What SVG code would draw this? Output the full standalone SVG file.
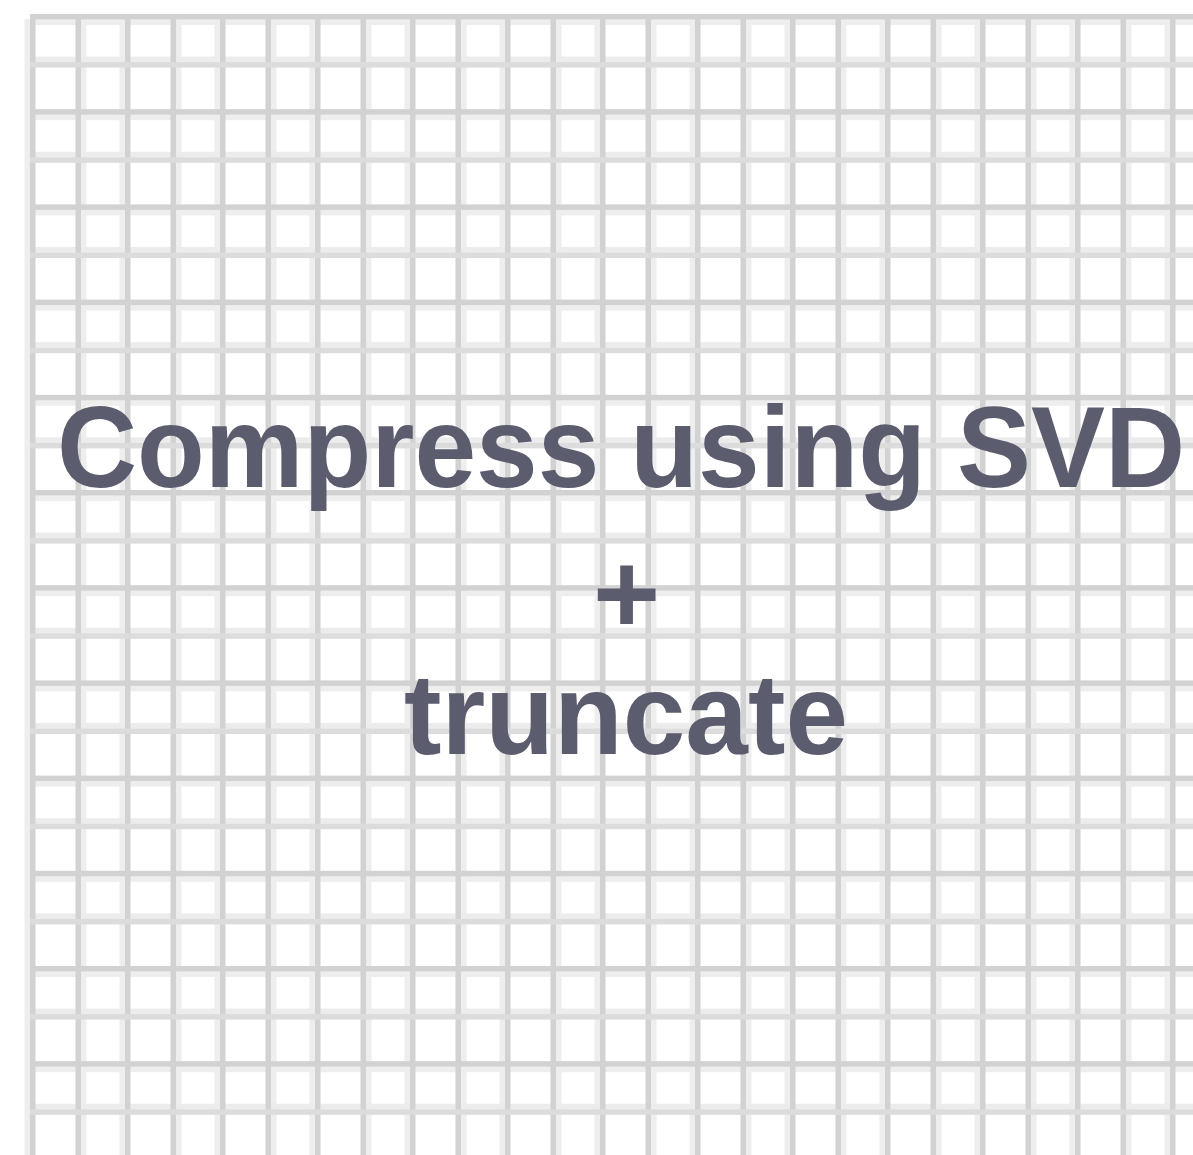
<svg xmlns="http://www.w3.org/2000/svg" width="1193" height="1155" viewBox="0 0 1193 1155">
<style>
.d{fill:#d2d2d2}
.l{fill:#eeeeee}
.m{fill:#dcdcdc}
.n{fill:#ececec}
.t{font-family:"Liberation Sans",Arial,Helvetica,sans-serif;font-weight:bold;font-size:115px;fill:#5c5c6f}
</style>
<rect width="1193" height="1155" fill="#ffffff"/>
<g id="grid">
<g id="vlight">
<rect class="l" x="24.5" y="19" width="5.5" height="1136"/>
<rect class="l" x="81" y="19" width="5.5" height="1136"/>
<rect class="l" x="119.5" y="19" width="5.5" height="1136"/>
<rect class="l" x="176" y="19" width="5.5" height="1136"/>
<rect class="l" x="214.5" y="19" width="5.5" height="1136"/>
<rect class="l" x="271" y="19" width="5.5" height="1136"/>
<rect class="l" x="309.5" y="19" width="5.5" height="1136"/>
<rect class="l" x="366" y="19" width="5.5" height="1136"/>
<rect class="l" x="404.5" y="19" width="5.5" height="1136"/>
<rect class="l" x="461" y="19" width="5.5" height="1136"/>
<rect class="l" x="499.5" y="19" width="5.5" height="1136"/>
<rect class="l" x="556" y="19" width="5.5" height="1136"/>
<rect class="l" x="594.5" y="19" width="5.5" height="1136"/>
<rect class="l" x="651" y="19" width="5.5" height="1136"/>
<rect class="l" x="689.5" y="19" width="5.5" height="1136"/>
<rect class="l" x="746" y="19" width="5.5" height="1136"/>
<rect class="l" x="784.5" y="19" width="5.5" height="1136"/>
<rect class="l" x="841" y="19" width="5.5" height="1136"/>
<rect class="l" x="879.5" y="19" width="5.5" height="1136"/>
<rect class="l" x="936" y="19" width="5.5" height="1136"/>
<rect class="l" x="974.5" y="19" width="5.5" height="1136"/>
<rect class="l" x="1031" y="19" width="5.5" height="1136"/>
<rect class="l" x="1069.5" y="19" width="5.5" height="1136"/>
<rect class="l" x="1126" y="19" width="5.5" height="1136"/>
<rect class="l" x="1164.5" y="19" width="5.5" height="1136"/>
</g>
<g id="hlight">
<rect class="l" x="30" y="19.5" width="1163" height="5.5"/>
<rect class="n" x="30" y="56.6" width="1163" height="5.5"/>
<rect class="l" x="30" y="114.7" width="1163" height="5.5"/>
<rect class="n" x="30" y="151.8" width="1163" height="5.5"/>
<rect class="l" x="30" y="209.9" width="1163" height="5.5"/>
<rect class="n" x="30" y="247" width="1163" height="5.5"/>
<rect class="l" x="30" y="305.1" width="1163" height="5.5"/>
<rect class="n" x="30" y="342.2" width="1163" height="5.5"/>
<rect class="l" x="30" y="400.3" width="1163" height="5.5"/>
<rect class="n" x="30" y="437.4" width="1163" height="5.5"/>
<rect class="l" x="30" y="495.5" width="1163" height="5.5"/>
<rect class="n" x="30" y="532.6" width="1163" height="5.5"/>
<rect class="l" x="30" y="590.7" width="1163" height="5.5"/>
<rect class="n" x="30" y="627.8" width="1163" height="5.5"/>
<rect class="l" x="30" y="685.9" width="1163" height="5.5"/>
<rect class="n" x="30" y="723" width="1163" height="5.5"/>
<rect class="l" x="30" y="781.1" width="1163" height="5.5"/>
<rect class="n" x="30" y="818.2" width="1163" height="5.5"/>
<rect class="l" x="30" y="876.3" width="1163" height="5.5"/>
<rect class="n" x="30" y="913.4" width="1163" height="5.5"/>
<rect class="l" x="30" y="971.5" width="1163" height="5.5"/>
<rect class="n" x="30" y="1008.6" width="1163" height="5.5"/>
<rect class="l" x="30" y="1066.7" width="1163" height="5.5"/>
<rect class="n" x="30" y="1103.8" width="1163" height="5.5"/>
</g>
<g id="vdark">
<rect class="d" x="30" y="14" width="5.5" height="1141"/>
<rect class="d" x="75.5" y="14" width="5.5" height="1141"/>
<rect class="d" x="125" y="14" width="5.5" height="1141"/>
<rect class="d" x="170.5" y="14" width="5.5" height="1141"/>
<rect class="d" x="220" y="14" width="5.5" height="1141"/>
<rect class="d" x="265.5" y="14" width="5.5" height="1141"/>
<rect class="d" x="315" y="14" width="5.5" height="1141"/>
<rect class="d" x="360.5" y="14" width="5.5" height="1141"/>
<rect class="d" x="410" y="14" width="5.5" height="1141"/>
<rect class="d" x="455.5" y="14" width="5.5" height="1141"/>
<rect class="d" x="505" y="14" width="5.5" height="1141"/>
<rect class="d" x="550.5" y="14" width="5.5" height="1141"/>
<rect class="d" x="600" y="14" width="5.5" height="1141"/>
<rect class="d" x="645.5" y="14" width="5.5" height="1141"/>
<rect class="d" x="695" y="14" width="5.5" height="1141"/>
<rect class="d" x="740.5" y="14" width="5.5" height="1141"/>
<rect class="d" x="790" y="14" width="5.5" height="1141"/>
<rect class="d" x="835.5" y="14" width="5.5" height="1141"/>
<rect class="d" x="885" y="14" width="5.5" height="1141"/>
<rect class="d" x="930.5" y="14" width="5.5" height="1141"/>
<rect class="d" x="980" y="14" width="5.5" height="1141"/>
<rect class="d" x="1025.5" y="14" width="5.5" height="1141"/>
<rect class="d" x="1075" y="14" width="5.5" height="1141"/>
<rect class="d" x="1120.5" y="14" width="5.5" height="1141"/>
<rect class="d" x="1170" y="14" width="5.5" height="1141"/>
</g>
<g id="hdark">
<rect class="d" x="30" y="14" width="1163" height="5.5"/>
<rect class="m" x="30" y="62.1" width="1163" height="5.5"/>
<rect class="d" x="30" y="109.2" width="1163" height="5.5"/>
<rect class="m" x="30" y="157.3" width="1163" height="5.5"/>
<rect class="d" x="30" y="204.4" width="1163" height="5.5"/>
<rect class="m" x="30" y="252.5" width="1163" height="5.5"/>
<rect class="d" x="30" y="299.6" width="1163" height="5.5"/>
<rect class="m" x="30" y="347.7" width="1163" height="5.5"/>
<rect class="d" x="30" y="394.8" width="1163" height="5.5"/>
<rect class="m" x="30" y="442.9" width="1163" height="5.5"/>
<rect class="d" x="30" y="490" width="1163" height="5.5"/>
<rect class="m" x="30" y="538.1" width="1163" height="5.5"/>
<rect class="d" x="30" y="585.2" width="1163" height="5.5"/>
<rect class="m" x="30" y="633.3" width="1163" height="5.5"/>
<rect class="d" x="30" y="680.4" width="1163" height="5.5"/>
<rect class="m" x="30" y="728.5" width="1163" height="5.5"/>
<rect class="d" x="30" y="775.6" width="1163" height="5.5"/>
<rect class="m" x="30" y="823.7" width="1163" height="5.5"/>
<rect class="d" x="30" y="870.8" width="1163" height="5.5"/>
<rect class="m" x="30" y="918.9" width="1163" height="5.5"/>
<rect class="d" x="30" y="966" width="1163" height="5.5"/>
<rect class="m" x="30" y="1014.1" width="1163" height="5.5"/>
<rect class="d" x="30" y="1061.2" width="1163" height="5.5"/>
<rect class="m" x="30" y="1109.3" width="1163" height="5.5"/>
</g>
</g>
<g id="title">
<text class="t" x="57" y="487" textLength="1128" lengthAdjust="spacingAndGlyphs">Compress using SVD</text>
<text class="t" x="626.5" y="633" text-anchor="middle">+</text>
<text class="t" x="404" y="754" textLength="444" lengthAdjust="spacingAndGlyphs">truncate</text>
</g>
</svg>
